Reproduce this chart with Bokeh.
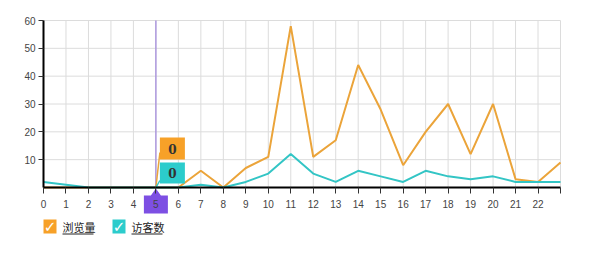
from bokeh.plotting import figure
from bokeh.models import Label, BoxAnnotation, FixedTicker, LinearAxis
from bokeh.embed import file_html
from bokeh.resources import INLINE

hours = list(range(24))
views = [0, 0, 0, 0, 0, 0, 0, 6, 0, 7, 11, 58, 11, 17, 44, 28, 8, 20, 30, 12, 30, 3, 2, 9]
visitors = [2, 1, 0, 0, 0, 0, 0, 1, 0, 2, 5, 12, 5, 2, 6, 4, 2, 6, 4, 3, 4, 2, 2, 2]
x_tick_labels = [str(h) for h in range(23)]
y_ticks = [10, 20, 30, 40, 50, 60]
series_names = ["浏览量", "访客数"]
hover_index = 5

ORANGE = "#eba43a"
ORANGE_BOX = "#f7a128"
CYAN = "#33c5c5"
CYAN_BOX = "#2ccccc"
PURPLE = "#7d4fe3"
LINE_PURPLE = "#9f86dc"
GRID = "#dcdcdc"

W, H = 600, 254
L, R, T, B = 43, 560, 20, 187

sx = (R - L) / 23.0
sy = (B - T) / 60.0
def dx(px):
    return (px - L) / sx
def dy(py):
    return (B - py) / sy

p = figure(width=W, height=H, x_range=(dx(0), dx(W)), y_range=(dy(H), dy(0)),
           output_backend="svg", toolbar_location=None,
           x_axis_location=None, y_axis_location=None,
           min_border_left=0, min_border_right=0,
           min_border_top=0, min_border_bottom=0)
p.outline_line_color = None
p.background_fill_color = "white"
p.xgrid.visible = False
p.ygrid.visible = False

# grid drawn only over the data area
p.segment(x0=hours, y0=[0] * len(hours), x1=hours, y1=[60] * len(hours), line_color=GRID, line_width=1)
gy = [0] + y_ticks
p.segment(x0=[0] * len(gy), y0=gy, x1=[23] * len(gy), y1=gy, line_color=GRID, line_width=1)

hx = hover_index
hpx = L + hx * sx

# purple x marker (box with a peak pointing at the axis), drawn under the axis labels
mx = [dx(hpx - 12), dx(hpx - 12), dx(hpx - 5), dx(hpx), dx(hpx + 5), dx(hpx + 12), dx(hpx + 12)]
my = [dy(213), dy(195), dy(195), dy(188), dy(195), dy(195), dy(213)]
p.patch(mx, my, fill_color=PURPLE, line_color=None)

# y axis at x = 0
yaxis = LinearAxis(fixed_location=0, bounds=(0, 60))
yaxis.ticker = FixedTicker(ticks=y_ticks)
yaxis.axis_line_color = "black"
yaxis.axis_line_width = 2
yaxis.major_tick_in = 0
yaxis.major_tick_out = 5
yaxis.major_tick_line_color = "#333"
yaxis.minor_tick_line_color = None
yaxis.major_label_text_font_size = "10px"
yaxis.major_label_text_color = "#444"
yaxis.major_label_text_font = "Liberation Sans"
yaxis.major_label_standoff = 3
p.add_layout(yaxis, "left")

# x axis at y = 0
xaxis = LinearAxis(fixed_location=0, bounds=(0, 23))
xaxis.ticker = FixedTicker(ticks=list(range(24)))
xaxis.major_label_overrides = {i: (x_tick_labels[i] if i < len(x_tick_labels) else "") for i in range(24)}
xaxis.axis_line_color = "black"
xaxis.axis_line_width = 2
xaxis.major_tick_in = 0
xaxis.major_tick_out = 6
xaxis.major_tick_line_color = "#333"
xaxis.minor_tick_line_color = None
xaxis.major_label_text_font_size = "10px"
xaxis.major_label_text_color = "#444"
xaxis.major_label_text_font = "Liberation Sans"
xaxis.major_label_standoff = 6
p.add_layout(xaxis, "below")

# hover line (only over the data area)
p.segment(x0=[hx], y0=[0], x1=[hx], y1=[60], line_color=LINE_PURPLE, line_width=1.2)

# series
p.line(hours, views, line_color=ORANGE, line_width=2)
p.line(hours, visitors, line_color=CYAN, line_width=2)

# tooltip callout boxes
bx_left = dx(hpx + 4)
bx_right = dx(hpx + 29)
p.add_layout(BoxAnnotation(left=bx_left, right=bx_right, bottom=dy(159), top=dy(137),
                           fill_color=ORANGE_BOX, fill_alpha=1, line_color=None))
p.add_layout(BoxAnnotation(left=bx_left, right=bx_right, bottom=dy(183), top=dy(162),
                           fill_color=CYAN_BOX, fill_alpha=1, line_color=None))
p.segment(x0=[hx], y0=[views[hx]], x1=[bx_left], y1=[dy(152)], line_color=ORANGE, line_width=1.5)
p.segment(x0=[hx], y0=[visitors[hx]], x1=[bx_left], y1=[dy(180)], line_color=CYAN, line_width=1.5)
bcx = (bx_left + bx_right) / 2
p.add_layout(Label(x=bcx, y=dy(148), text=str(views[hx]), text_align="center", text_baseline="middle",
                   text_font_size="12px", text_font_style="bold", text_color="#333",
                   text_font="DejaVu Serif"))
p.add_layout(Label(x=bcx, y=dy(172.5), text=str(visitors[hx]), text_align="center", text_baseline="middle",
                   text_font_size="12px", text_font_style="bold", text_color="#333",
                   text_font="DejaVu Serif"))

# legend
for i, (name, col) in enumerate(zip(series_names, [ORANGE_BOX, CYAN_BOX])):
    x0 = 43 + i * 69
    p.add_layout(BoxAnnotation(left=dx(x0), right=dx(x0 + 13), bottom=dy(233), top=dy(219),
                               fill_color=col, fill_alpha=1, line_color=None))
    p.add_layout(Label(x=dx(x0 + 6.5), y=dy(226), text="✓", text_align="center", text_baseline="middle",
                       text_font_size="15px", text_font_style="bold", text_color="white",
                       text_font="DejaVu Sans"))
    p.add_layout(Label(x=dx(x0 + 19), y=dy(226), text=name, text_align="left", text_baseline="middle",
                       text_font_size="11px", text_color="#222", text_font="Noto Sans CJK SC"))
    p.add_layout(BoxAnnotation(left=dx(x0 + 19), right=dx(x0 + 50), bottom=dy(234), top=dy(233),
                               fill_color="#222", fill_alpha=1, line_color=None))

open("out.html", "w").write(file_html(p, INLINE))
